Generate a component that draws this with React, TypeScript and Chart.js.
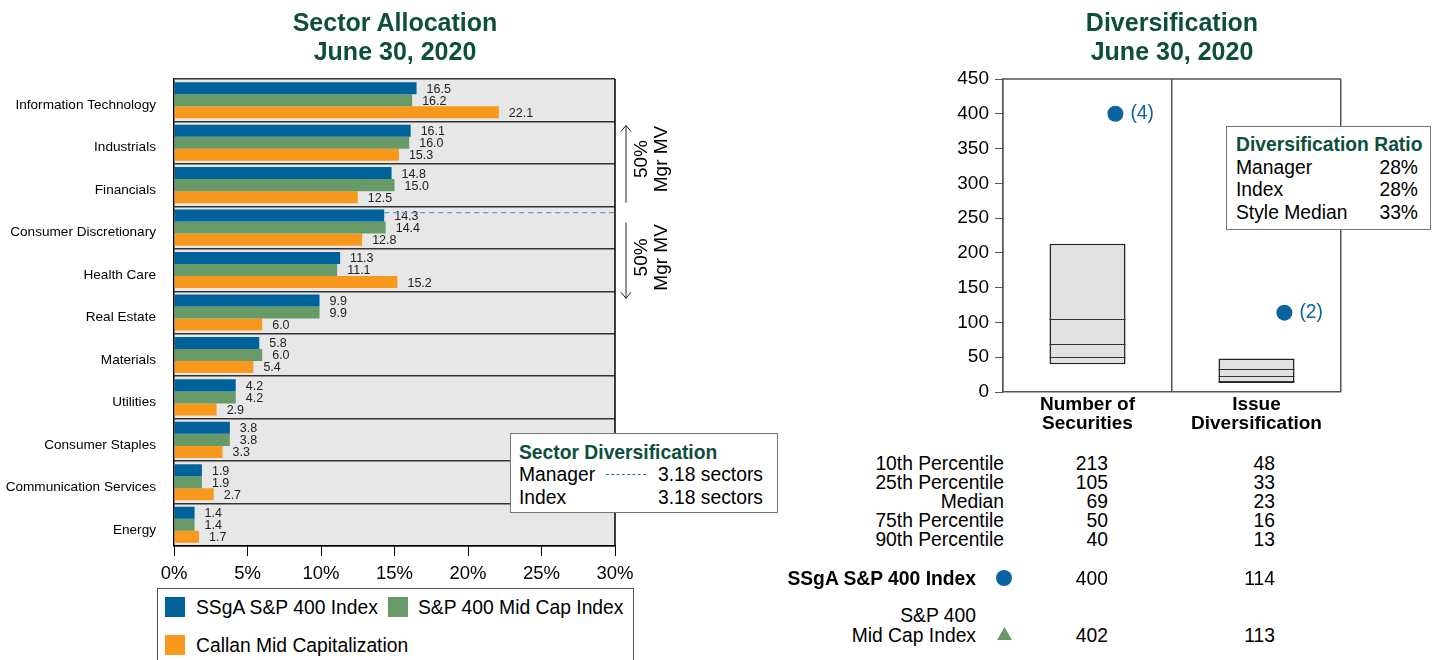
import React, { useEffect, useRef } from "react";
import { Chart, registerables } from "chart.js";

Chart.register(...registerables);

const FONT = "'Liberation Sans', Arial, Helvetica, sans-serif";
const TITLE_GREEN = "#0d4e3c";
const BLUE = "#00629b";
const GREEN = "#689a67";
const ORANGE = "#f8991d";
const DOT_BLUE = "#0a64a0";

// ---------- Sector allocation data ----------
const sectors = [
  "Information Technology",
  "Industrials",
  "Financials",
  "Consumer Discretionary",
  "Health Care",
  "Real Estate",
  "Materials",
  "Utilities",
  "Consumer Staples",
  "Communication Services",
  "Energy",
];
const ssgaValues = [16.5, 16.1, 14.8, 14.3, 11.3, 9.9, 5.8, 4.2, 3.8, 1.9, 1.4];
const midCapValues = [16.2, 16.0, 15.0, 14.4, 11.1, 9.9, 6.0, 4.2, 3.8, 1.9, 1.4];
const callanValues = [22.1, 15.3, 12.5, 12.8, 15.2, 6.0, 5.4, 2.9, 3.3, 2.7, 1.7];
const seriesNames = ["SSgA S&P 400 Index", "S&P 400 Mid Cap Index", "Callan Mid Capitalization"];
const xMax = 30;
const xStep = 5;
const sectorDivRows = [
  ["Manager", "3.18 sectors"],
  ["Index", "3.18 sectors"],
];

// ---------- Diversification data ----------
const divCategories = [["Number of", "Securities"], ["Issue", "Diversification"]];
const pct10 = [213, 48];
const pct25 = [105, 33];
const pctMedian = [69, 23];
const pct75 = [50, 16];
const pct90 = [40, 13];
const ssgaDiv = [400, 114];
const ssgaRanks = ["(4)", "(2)"];
const midCapDiv = [402, 113];
const yMaxDiv = 450;
const yStepDiv = 50;
const percentileLabels = ["10th Percentile", "25th Percentile", "Median", "75th Percentile", "90th Percentile"];
const ratioRows = [
  ["Manager", "28%"],
  ["Index", "28%"],
  ["Style Median", "33%"],
];

const DOT_OFFSET = 0.165; // style offset of marker right of category centre
const BODY = 19.3;

function Txt(props: {
  x: number;
  y: number;
  text: string;
  align?: "left" | "right" | "center";
  size?: number;
  bold?: boolean;
  color?: string;
}) {
  const size = props.size ?? BODY;
  const lh = Math.round(size * 1.2);
  const align = props.align ?? "left";
  const style: any = {
    position: "absolute",
    top: props.y - lh / 2,
    height: lh,
    lineHeight: lh + "px",
    fontSize: size,
    fontWeight: props.bold ? 700 : 400,
    color: props.color ?? "#000",
    whiteSpace: "nowrap",
    fontFamily: FONT,
  };
  if (align === "left") style.left = props.x;
  else if (align === "right") style.right = 1444 - props.x;
  else {
    style.left = props.x - 300;
    style.width = 600;
    style.textAlign = "center";
  }
  return <div style={style}>{props.text}</div>;
}

export default function App() {
  const leftRef = useRef<HTMLCanvasElement>(null);
  const rightRef = useRef<HTMLCanvasElement>(null);

  useEffect(() => {
    Chart.defaults.font.family = FONT;

    // cumulative 50% cut-off row for manager
    const total = ssgaValues.reduce((a, b) => a + b, 0);
    let cum = 0;
    let cutIdx = 0;
    for (let i = 0; i < ssgaValues.length; i++) {
      cum += ssgaValues[i];
      if (cum >= total / 2) {
        cutIdx = i;
        break;
      }
    }

    const leftPlugin = {
      id: "leftDeco",
      beforeDraw(chart: any) {
        const { ctx, chartArea } = chart;
        ctx.save();
        ctx.fillStyle = "#e7e7e7";
        ctx.fillRect(chartArea.left, chartArea.top, chartArea.right - chartArea.left, chartArea.bottom - chartArea.top);
        ctx.restore();
      },
      afterDatasetsDraw(chart: any) {
        const { ctx, chartArea } = chart;
        ctx.save();
        // value labels
        ctx.font = "12.5px " + FONT;
        ctx.fillStyle = "#222";
        ctx.textAlign = "left";
        ctx.textBaseline = "middle";
        chart.data.datasets.forEach((ds: any, di: number) => {
          const meta = chart.getDatasetMeta(di);
          meta.data.forEach((el: any, i: number) => {
            ctx.fillText(Number(ds.data[i]).toFixed(1), el.x + 10, el.y + 1);
          });
        });
        // right border
        ctx.strokeStyle = "#000";
        ctx.lineWidth = 1.5;
        ctx.beginPath();
        ctx.moveTo(chartArea.right, chartArea.top);
        ctx.lineTo(chartArea.right, chartArea.bottom);
        ctx.stroke();
        // dashed 50% line
        const bar = chart.getDatasetMeta(0).data[cutIdx];
        const dy = bar.y - bar.height / 4;
        ctx.strokeStyle = "#5a9fd4";
        ctx.lineWidth = 1.3;
        ctx.setLineDash([5, 4]);
        ctx.beginPath();
        ctx.moveTo(bar.x, dy);
        ctx.lineTo(chartArea.right, dy);
        ctx.stroke();
        ctx.setLineDash([]);
        // arrows
        const ys = chart.scales.y;
        const half = (ys.getPixelForValue(1) - ys.getPixelForValue(0)) / 2;
        const ax = chartArea.right + 11;
        const upTop = ys.getPixelForValue(0) + half + 4;
        const upBot = dy - 10;
        const loTop = dy + 10;
        const loBot = ys.getPixelForValue(cutIdx + 1) + half + 7;
        ctx.strokeStyle = "#222";
        ctx.lineWidth = 1;
        ctx.beginPath();
        ctx.moveTo(ax, upTop);
        ctx.lineTo(ax, upBot);
        ctx.moveTo(ax - 5, upTop + 6);
        ctx.lineTo(ax, upTop);
        ctx.lineTo(ax + 5, upTop + 6);
        ctx.moveTo(ax, loTop);
        ctx.lineTo(ax, loBot);
        ctx.moveTo(ax - 5, loBot - 6);
        ctx.lineTo(ax, loBot);
        ctx.lineTo(ax + 5, loBot - 6);
        ctx.stroke();
        // rotated texts
        ctx.fillStyle = "#000";
        ctx.font = "19px " + FONT;
        ctx.textAlign = "center";
        ctx.textBaseline = "middle";
        const drawRot = (cy: number) => {
          ctx.save();
          ctx.translate(ax + 26, cy);
          ctx.rotate(-Math.PI / 2);
          ctx.fillText("50%", 0, -10);
          ctx.fillText("Mgr MV", 0, 10);
          ctx.restore();
        };
        drawRot((upTop + upBot) / 2 - 5);
        drawRot((loTop + loBot) / 2 - 3);
        ctx.restore();
      },
    };

    const c1 = new Chart(leftRef.current as HTMLCanvasElement, {
      type: "bar",
      data: {
        labels: sectors,
        datasets: [
          { label: seriesNames[0], data: ssgaValues, backgroundColor: BLUE },
          { label: seriesNames[1], data: midCapValues, backgroundColor: GREEN },
          { label: seriesNames[2], data: callanValues, backgroundColor: ORANGE },
        ],
      },
      options: {
        indexAxis: "y",
        animation: false,
        responsive: false,
        maintainAspectRatio: false,
        layout: { padding: { top: 79, right: 185, left: 0, bottom: 0 } },
        datasets: { bar: { categoryPercentage: 0.85, barPercentage: 1.0 } },
        plugins: { legend: { display: false }, tooltip: { enabled: false }, title: { display: false } },
        scales: {
          x: {
            min: 0,
            max: xMax,
            ticks: {
              stepSize: xStep,
              callback: (v: any) => v + "%",
              font: { size: 18.5, family: FONT },
              color: "#000",
              padding: 7,
            },
            grid: { drawOnChartArea: false, drawTicks: true, tickLength: 10, color: "#000", lineWidth: 1 },
            border: { color: "#000", width: 1.5 },
            afterFit: (s: any) => {
              s.height = 54;
            },
          },
          y: {
            ticks: { font: { size: 13.6, family: FONT }, color: "#000", padding: 18, labelOffset: 5 },
            grid: { offset: true, color: "#333", lineWidth: 1.5, drawTicks: false },
            border: { color: "#000", width: 1.5 },
            afterFit: (s: any) => {
              s.width = 174;
            },
          },
        },
      } as any,
      plugins: [leftPlugin],
    });

    const rightPlugin = {
      id: "rightDeco",
      afterDatasetsDraw(chart: any) {
        const { ctx, chartArea } = chart;
        const ys = chart.scales.y;
        ctx.save();
        // top border
        ctx.strokeStyle = "#555";
        ctx.lineWidth = 1.5;
        ctx.beginPath();
        ctx.moveTo(chartArea.left, chartArea.top);
        ctx.lineTo(chartArea.right, chartArea.top);
        ctx.stroke();
        // percentile lines inside boxes
        const boxMeta = chart.getDatasetMeta(0);
        ctx.strokeStyle = "#333";
        ctx.lineWidth = 1;
        boxMeta.data.forEach((el: any, i: number) => {
          const x0 = el.x - el.width / 2;
          const x1 = el.x + el.width / 2;
          [pct25[i], pctMedian[i], pct75[i]].forEach((v) => {
            const y = Math.round(ys.getPixelForValue(v)) + 0.5;
            ctx.beginPath();
            ctx.moveTo(x0, y);
            ctx.lineTo(x1, y);
            ctx.stroke();
          });
        });
        ctx.restore();
      },
      afterDraw(chart: any) {
        const { ctx } = chart;
        ctx.save();
        const meta = chart.getDatasetMeta(1);
        ctx.font = "19.3px " + FONT;
        ctx.fillStyle = DOT_BLUE;
        ctx.textAlign = "left";
        ctx.textBaseline = "middle";
        meta.data.forEach((el: any, i: number) => {
          ctx.fillText(ssgaRanks[i], el.x + 15, el.y);
        });
        ctx.restore();
      },
    };

    const c2 = new Chart(rightRef.current as HTMLCanvasElement, {
      type: "bar",
      data: {
        labels: divCategories as any,
        datasets: [
          {
            label: "10th-90th percentile",
            data: pct90.map((v, i) => [v, pct10[i]]),
            backgroundColor: "#e1e1e1",
            borderColor: "#222",
            borderWidth: 1.5,
            borderSkipped: false,
            grouped: false,
            barPercentage: 0.45,
            categoryPercentage: 1,
            order: 3,
          },
          {
            type: "line",
            label: seriesNames[0],
            xAxisID: "xp",
            data: ssgaDiv.map((v, i) => ({ x: i + DOT_OFFSET, y: v })),
            showLine: false,
            pointStyle: "circle",
            pointRadius: 8,
            pointBackgroundColor: DOT_BLUE,
            pointBorderColor: DOT_BLUE,
            pointBorderWidth: 0,
            order: 0,
          },
          {
            type: "line",
            label: seriesNames[1],
            xAxisID: "xp",
            data: midCapDiv.map((v, i) => ({ x: i + DOT_OFFSET, y: v })),
            showLine: false,
            pointStyle: "triangle",
            pointRadius: 5,
            pointBackgroundColor: GREEN,
            pointBorderColor: GREEN,
            pointBorderWidth: 0,
            order: 1,
          },
        ] as any,
      },
      options: {
        animation: false,
        responsive: false,
        maintainAspectRatio: false,
        layout: { padding: { top: 79, right: 103, left: 0, bottom: 0 } },
        plugins: { legend: { display: false }, tooltip: { enabled: false }, title: { display: false } },
        scales: {
          x: {
            ticks: {
              font: { size: 19, weight: "bold", family: FONT, lineHeight: 0.97 },
              color: "#000",
              padding: 4,
              maxRotation: 0,
            },
            grid: { offset: true, color: "#555", lineWidth: 1.5, drawTicks: false },
            border: { color: "#555", width: 1.5 },
            afterFit: (s: any) => {
              s.height = 48;
            },
          },
          xp: {
            type: "linear",
            display: false,
            offset: false,
            grid: { offset: false },
            min: -0.5,
            max: divCategories.length - 0.5,
          },
          y: {
            min: 0,
            max: yMaxDiv,
            ticks: { stepSize: yStepDiv, font: { size: 19, family: FONT }, color: "#000", padding: 6 },
            grid: { drawOnChartArea: false, drawTicks: true, tickLength: 8, color: "#555", lineWidth: 1 },
            border: { color: "#555", width: 1.5 },
            afterFit: (s: any) => {
              s.width = 203;
            },
          },
        },
      } as any,
      plugins: [rightPlugin],
    });

    return () => {
      c1.destroy();
      c2.destroy();
    };
  }, []);

  const pctArrays = [pct10, pct25, pctMedian, pct75, pct90];
  const rowY = [463, 482, 501, 520, 539];

  return (
    <div
      style={{
        position: "absolute",
        left: 0,
        top: 0,
        width: 1444,
        height: 660,
        overflow: "hidden",
        background: "#fff",
        fontFamily: FONT,
      }}
    >
      <canvas ref={leftRef} width={800} height={600} style={{ position: "absolute", left: 0, top: 0, width: 800, height: 600 }} />
      <canvas ref={rightRef} width={644} height={440} style={{ position: "absolute", left: 800, top: 0, width: 644, height: 440 }} />

      {/* Titles */}
      <Txt x={395} y={22} text="Sector Allocation" align="center" size={25} bold color={TITLE_GREEN} />
      <Txt x={395} y={51} text="June 30, 2020" align="center" size={25} bold color={TITLE_GREEN} />
      <Txt x={1172} y={22} text="Diversification" align="center" size={25} bold color={TITLE_GREEN} />
      <Txt x={1172} y={51} text="June 30, 2020" align="center" size={25} bold color={TITLE_GREEN} />

      {/* Sector diversification box */}
      <div
        style={{
          position: "absolute",
          left: 510,
          top: 433,
          width: 266,
          height: 78,
          border: "1px solid #777",
          background: "#fff",
        }}
      />
      <Txt x={519} y={452} text="Sector Diversification" bold color={TITLE_GREEN} />
      {sectorDivRows.map((r, i) => (
        <React.Fragment key={r[0]}>
          <Txt x={519} y={474 + i * 23} text={r[0]} />
          <Txt x={763} y={474 + i * 23} text={r[1]} align="right" />
        </React.Fragment>
      ))}
      <div style={{ position: "absolute", left: 606, top: 474, width: 40, borderTop: "1.5px dashed #1f6fa8" }} />

      {/* Legend box */}
      <div
        style={{
          position: "absolute",
          left: 157,
          top: 588,
          width: 475,
          height: 90,
          border: "1px solid #555",
          background: "#fff",
        }}
      />
      <div style={{ position: "absolute", left: 165, top: 597, width: 20, height: 20, background: BLUE }} />
      <Txt x={196} y={607} text={seriesNames[0]} />
      <div style={{ position: "absolute", left: 388, top: 597, width: 20, height: 20, background: GREEN }} />
      <Txt x={418} y={607} text={seriesNames[1]} />
      <div style={{ position: "absolute", left: 165, top: 635, width: 20, height: 20, background: ORANGE }} />
      <Txt x={196} y={645} text={seriesNames[2]} />

      {/* Diversification ratio box */}
      <div
        style={{
          position: "absolute",
          left: 1226,
          top: 126,
          width: 203,
          height: 102,
          border: "1px solid #777",
          background: "#fff",
        }}
      />
      <Txt x={1236} y={144} text="Diversification Ratio" bold color={TITLE_GREEN} />
      {ratioRows.map((r, i) => (
        <React.Fragment key={r[0]}>
          <Txt x={1236} y={167 + i * 22.5} text={r[0]} />
          <Txt x={1418} y={167 + i * 22.5} text={r[1]} align="right" />
        </React.Fragment>
      ))}

      {/* Table */}
      {percentileLabels.map((lab, i) => (
        <React.Fragment key={lab}>
          <Txt x={1004} y={rowY[i]} text={lab} align="right" />
          <Txt x={1108} y={rowY[i]} text={String(pctArrays[i][0])} align="right" />
          <Txt x={1275} y={rowY[i]} text={String(pctArrays[i][1])} align="right" />
        </React.Fragment>
      ))}
      <Txt x={976} y={578} text={seriesNames[0]} align="right" bold />
      <div
        style={{
          position: "absolute",
          left: 996,
          top: 570,
          width: 16,
          height: 16,
          borderRadius: 8,
          background: DOT_BLUE,
        }}
      />
      <Txt x={1108} y={578} text={String(ssgaDiv[0])} align="right" />
      <Txt x={1275} y={578} text={String(ssgaDiv[1])} align="right" />
      <Txt x={976} y={615} text="S&P 400" align="right" />
      <Txt x={976} y={635} text="Mid Cap Index" align="right" />
      <svg style={{ position: "absolute", left: 997, top: 627 }} width={15} height={13}>
        <polygon points="7.5,0 15,13 0,13" fill={GREEN} />
      </svg>
      <Txt x={1108} y={635} text={String(midCapDiv[0])} align="right" />
      <Txt x={1275} y={635} text={String(midCapDiv[1])} align="right" />
    </div>
  );
}
